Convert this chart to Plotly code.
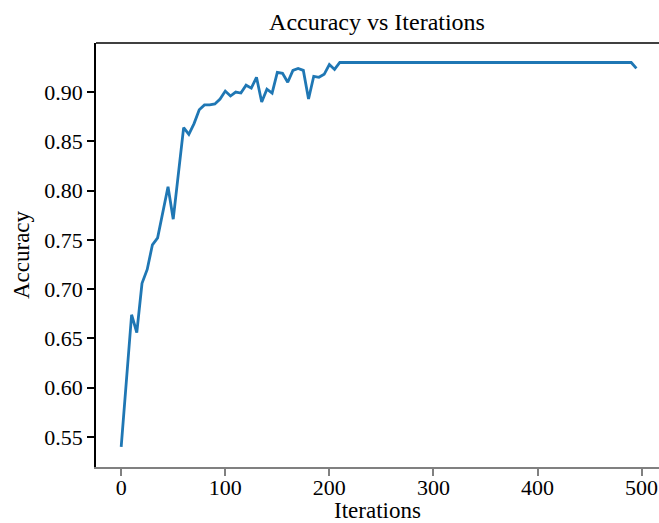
import plotly.graph_objects as go

iterations = [
    0, 5, 10, 15, 20, 25, 30, 35, 40, 45, 50, 55, 60, 65, 70, 75, 80, 85, 90, 95,
    100, 105, 110, 115, 120, 125, 130, 135, 140, 145, 150, 155, 160, 165, 170, 175, 180, 185, 190, 195,
    200, 205, 210, 215, 220, 225, 230, 235, 240, 245, 250, 255, 260, 265, 270, 275, 280, 285, 290, 295,
    300, 305, 310, 315, 320, 325, 330, 335, 340, 345, 350, 355, 360, 365, 370, 375, 380, 385, 390, 395,
    400, 405, 410, 415, 420, 425, 430, 435, 440, 445, 450, 455, 460, 465, 470, 475, 480, 485, 490, 495,
]

accuracy = [
    0.540, 0.607, 0.674, 0.656, 0.706, 0.720, 0.745, 0.752, 0.778, 0.804,
    0.771, 0.817, 0.864, 0.857, 0.868, 0.882, 0.887, 0.887, 0.888, 0.893,
    0.901, 0.896, 0.900, 0.899, 0.907, 0.904, 0.915, 0.890, 0.903, 0.899,
    0.920, 0.919, 0.910, 0.922, 0.924, 0.922, 0.893, 0.916, 0.915, 0.918,
    0.928, 0.923, 0.930, 0.930, 0.930, 0.930, 0.930, 0.930, 0.930, 0.930,
    0.930, 0.930, 0.930, 0.930, 0.930, 0.930, 0.930, 0.930, 0.930, 0.930,
    0.930, 0.930, 0.930, 0.930, 0.930, 0.930, 0.930, 0.930, 0.930, 0.930,
    0.930, 0.930, 0.930, 0.930, 0.930, 0.930, 0.930, 0.930, 0.930, 0.930,
    0.930, 0.930, 0.930, 0.930, 0.930, 0.930, 0.930, 0.930, 0.930, 0.930,
    0.930, 0.930, 0.930, 0.930, 0.930, 0.930, 0.930, 0.930, 0.930, 0.924,
]

x_ticks = [0, 100, 200, 300, 400, 500]
y_ticks = [0.55, 0.60, 0.65, 0.70, 0.75, 0.80, 0.85, 0.90]

title_text = "Accuracy vs Iterations"
x_label = "Iterations"
y_label = "Accuracy"

FONT = "Liberation Serif, Times New Roman, serif"

fig = go.Figure()
fig.add_trace(go.Scatter(
    x=iterations, y=accuracy, mode="lines",
    line=dict(color="#1f77b4", width=2.8),
    showlegend=False,
))

fig.update_layout(
    width=659, height=523,
    margin=dict(l=96, r=0, t=43, b=56, autoexpand=False),
    paper_bgcolor="white", plot_bgcolor="white",
    font=dict(family=FONT, color="black", size=22),
    title=dict(text=title_text, font=dict(family=FONT, size=24, color="black"),
               x=377 / 659, xref="container", xanchor="center",
               y=1 - 22 / 523, yref="container", yanchor="middle"),
    shapes=[dict(type="line", xref="paper", yref="paper", x0=0, x1=1, y0=1, y1=1,
                 line=dict(color="black", width=1.5))],
)

fig.update_xaxes(
    range=[-24.2, 516.7], tickvals=x_ticks, ticktext=[str(v) for v in x_ticks],
    showgrid=False, zeroline=False, automargin=False,
    showline=True, linecolor="#808080", linewidth=1.5,
    ticks="outside", ticklen=7, tickwidth=1.5, tickcolor="#808080",
    tickfont=dict(family=FONT, size=22, color="black"),
    ticklabelstandoff=-7,
    title=dict(text=x_label, font=dict(family=FONT, size=23, color="black"), standoff=0),
)
fig.update_yaxes(
    range=[0.5195, 0.9498], tickvals=y_ticks, ticktext=[f"{v:.2f}" for v in y_ticks],
    showgrid=False, zeroline=False, automargin=False,
    showline=True, linecolor="black", linewidth=1.5,
    ticks="outside", ticklen=7, tickwidth=1.5, tickcolor="black",
    tickfont=dict(family=FONT, size=22, color="black"),
    title=dict(text=y_label, font=dict(family=FONT, size=23, color="black"), standoff=8),
)

fig.write_html("out.html", config={"displayModeBar": False},
               post_script="document.body.style.margin='0';")
